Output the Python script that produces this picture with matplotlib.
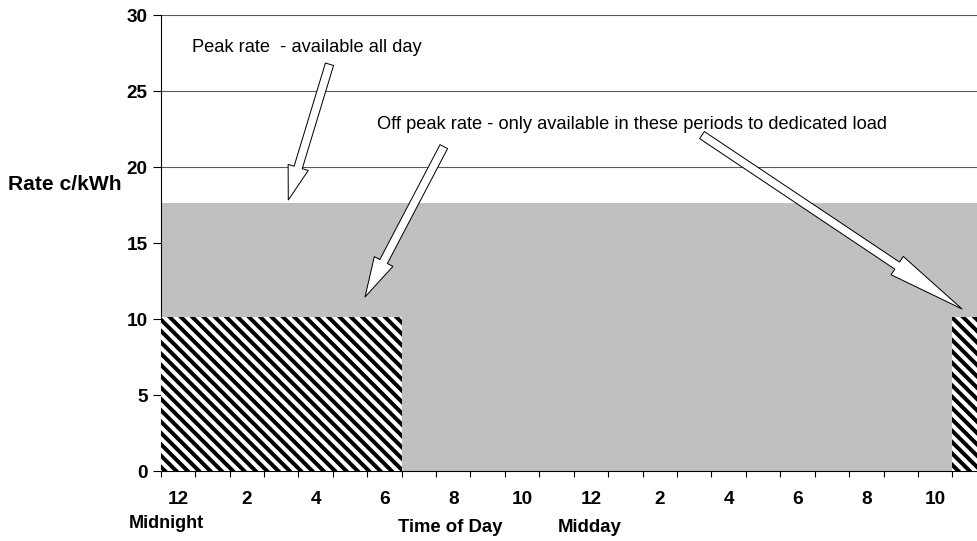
import numpy as np
import matplotlib
matplotlib.use("Agg")
import matplotlib.pyplot as plt
from matplotlib.patches import FancyArrowPatch

# ---------------- data ----------------
hours = list(range(24))
hour_labels = ["12", "", "2", "", "4", "", "6", "", "8", "", "10", "",
               "12", "", "2", "", "4", "", "6", "", "8", "", "10", ""]
peak_rate = [17.65] * 24
off_peak_rate = [10.1, 10.1, 10.1, 10.1, 10.1, 10.1, 10.1,
                 np.nan, np.nan, np.nan, np.nan, np.nan, np.nan, np.nan,
                 np.nan, np.nan, np.nan, np.nan, np.nan, np.nan, np.nan,
                 np.nan, np.nan, 10.1]
y_ticks = [0, 5, 10, 15, 20, 25, 30]

# ---------------- setup ----------------
DPI = 68.4
def pt(px):
    return px * 72.0 / DPI

plt.rcParams['font.family'] = ['Liberation Sans', 'DejaVu Sans']
plt.rcParams['hatch.linewidth'] = pt(4.0)

fig = plt.figure(figsize=(977 / DPI, 541 / DPI), dpi=DPI)
W, H = 977.0, 541.0
ax = fig.add_axes([160.7 / W, (H - 471) / H, (986.8 - 160.7) / W, (471 - 15) / H])

ax.bar(hours, peak_rate, width=1.0, color='#c0c0c0', edgecolor='none', zorder=2)
ax.bar(hours, off_peak_rate, width=1.0, color='white', edgecolor='black',
       linewidth=0, hatch='\\\\', zorder=3)

ax.set_xlim(-0.5, 23.5)
ax.set_ylim(0, 30)
ax.set_yticks(y_ticks)
ax.set_yticklabels([str(v) for v in y_ticks], fontweight='bold', fontsize=pt(19))
ax.yaxis.grid(True, color='#5a5a5a', linewidth=pt(1.1))
ax.set_axisbelow(True)

ax.set_xticks(hours)
ax.set_xticklabels(hour_labels, fontweight='bold', fontsize=pt(19))
ax.set_xticks(np.arange(-0.5, 24, 1), minor=True)
ax.tick_params(axis='x', which='major', length=0, pad=pt(20))
ax.tick_params(axis='x', which='minor', length=pt(6), width=pt(1.1),
               direction='out', color='black')
ax.tick_params(axis='y', which='major', length=pt(8), width=pt(1.1),
               direction='out', pad=pt(5), color='black')

for s in ['top', 'right']:
    ax.spines[s].set_visible(False)
for s in ['left', 'bottom']:
    ax.spines[s].set_linewidth(pt(1.1))
    ax.spines[s].set_color('black')

# ---------------- annotations ----------------
ax.text(0.41, 27.59, "Peak rate  - available all day", fontsize=pt(18.2),
        ha='left', va='baseline', zorder=6)
ax.text(5.775, 22.5,
        "Off peak rate - only available in these periods to dedicated load",
        fontsize=pt(18.2), ha='left', va='baseline', zorder=6)

arrows = [
    ((4.404, 26.76), (3.207, 17.83), 34, 21),
    ((7.725, 21.34), (5.436, 11.45), 40, 21),
    ((15.226, 22.1), (22.78, 10.66), 78, 22),
]
for tail, tip, hl, hw in arrows:
    style = "simple,head_length=%.2f,head_width=%.2f,tail_width=%.2f" % (
        pt(hl), pt(hw), pt(8.5))
    p = FancyArrowPatch(tail, tip, arrowstyle=style, mutation_scale=1,
                        facecolor='white', edgecolor='black',
                        linewidth=pt(1.0), shrinkA=0, shrinkB=0, zorder=5)
    ax.add_patch(p)

fig.text(8 / W, 1 - 185 / H, "Rate c/kWh", fontweight='bold', fontsize=pt(21),
         ha='left', va='center')
fig.text(166 / W, 1 - 523 / H, "Midnight", fontweight='bold', fontsize=pt(18),
         ha='center', va='center')
fig.text(450 / W, 1 - 528 / H, "Time of Day", fontweight='bold', fontsize=pt(18.5),
         ha='center', va='center')
fig.text(590 / W, 1 - 528 / H, "Midday", fontweight='bold', fontsize=pt(18.5),
         ha='center', va='center')

fig.savefig("out.png", dpi=DPI)
